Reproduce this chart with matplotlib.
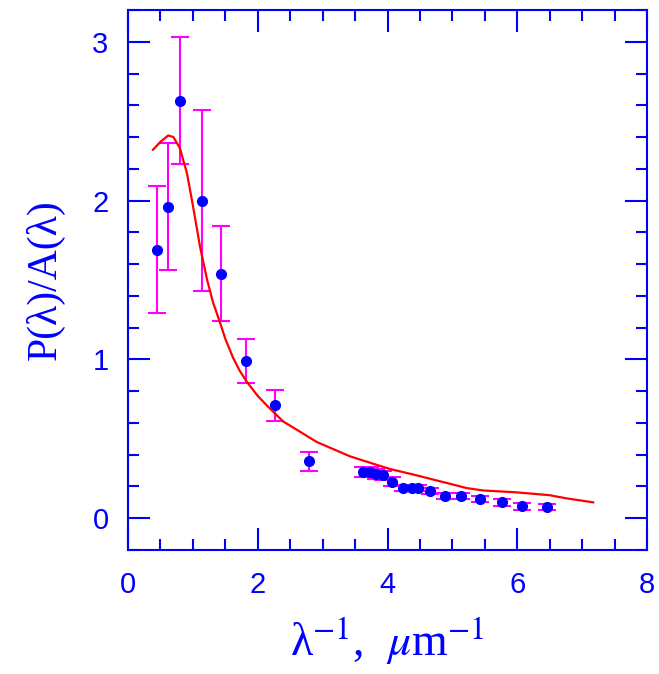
import matplotlib
matplotlib.use("Agg")
import matplotlib.pyplot as plt
from matplotlib.ticker import MultipleLocator

# Data points (inverse wavelength, ratio, error)
x_pts = [0.45, 0.62, 0.80, 1.14, 1.43, 1.82, 2.27, 2.79,
         3.62, 3.73, 3.83, 3.93, 4.07, 4.24, 4.37, 4.47, 4.65,
         4.88, 5.14, 5.42, 5.76, 6.07, 6.46]
y_pts = [1.69, 1.96, 2.63, 2.00, 1.54, 0.99, 0.71, 0.36,
         0.29, 0.29, 0.28, 0.27, 0.23, 0.19, 0.19, 0.19, 0.17,
         0.14, 0.14, 0.12, 0.10, 0.075, 0.07]
y_err = [0.40, 0.40, 0.40, 0.57, 0.30, 0.14, 0.10, 0.06,
         0.03, 0.03, 0.03, 0.03, 0.03, 0.02, 0.02, 0.02, 0.02,
         0.02, 0.02, 0.02, 0.02, 0.02, 0.02]

# Model curve
x_curve = [0.385, 0.50, 0.62, 0.70, 0.80, 0.91, 1.00, 1.11, 1.22, 1.31, 1.42,
           1.50, 1.62, 1.72, 1.83, 2.00, 2.14, 2.39, 2.91, 3.42, 3.88, 4.04,
           4.45, 5.22, 5.47, 5.99, 6.50, 6.76, 7.17]
y_curve = [2.32, 2.37, 2.41, 2.40, 2.33, 2.17, 1.97, 1.71, 1.50, 1.36, 1.23,
           1.13, 1.01, 0.93, 0.86, 0.77, 0.71, 0.61, 0.48, 0.39, 0.33, 0.31,
           0.27, 0.19, 0.175, 0.163, 0.145, 0.125, 0.10]

x_ticks = [0, 2, 4, 6, 8]
y_ticks = [0, 1, 2, 3]

BLUE = "#0000ff"
MAG = "#ff00ff"
RED = "#ff0000"

plt.rcParams['mathtext.fontset'] = 'stix'

fig = plt.figure(figsize=(6.59, 6.74), dpi=100)
ax = fig.add_axes([128/659, 1-550/674, 519/659, 540/674])

ax.errorbar(x_pts, y_pts, yerr=y_err, fmt='none', ecolor=MAG,
            elinewidth=1.5, capsize=6.5, capthick=1.5, zorder=2)
ax.plot(x_pts, y_pts, 'o', color=BLUE, markersize=7, zorder=3)
ax.plot(x_curve, y_curve, '-', color=RED, linewidth=1.6, zorder=4)

ax.set_xlim(0, 8)
ax.set_ylim(-0.2, 3.2)
ax.set_xticks(x_ticks)
ax.set_yticks(y_ticks)
ax.xaxis.set_minor_locator(MultipleLocator(0.5))
ax.yaxis.set_minor_locator(MultipleLocator(0.2))

for s in ax.spines.values():
    s.set_color(BLUE)
    s.set_linewidth(1.5)

ax.tick_params(which='both', direction='in', top=True, right=True,
               color=BLUE, width=1.5, labelcolor=BLUE)
ax.tick_params(which='major', length=16, labelsize=21)
ax.tick_params(axis='x', which='major', pad=15)
ax.tick_params(axis='y', which='major', pad=14)
ax.tick_params(which='minor', length=8)
for lab in ax.get_xticklabels() + ax.get_yticklabels():
    lab.set_family('Liberation Sans')

ax.set_ylabel("P(λ)/A(λ)", color=BLUE, fontsize=30,
              family='Liberation Serif', labelpad=20)
ax.set_xlabel("λ$^{-1}$,  $\\mu$m$^{-1}$", color=BLUE, fontsize=33,
              family='Liberation Serif', labelpad=12)

fig.savefig("out.png", dpi=100)
